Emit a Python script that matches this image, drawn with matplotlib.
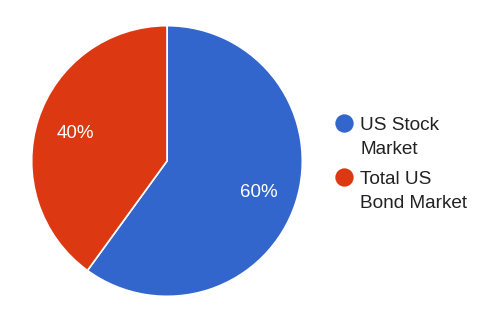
import matplotlib.pyplot as plt
from matplotlib.lines import Line2D

labels = ["US Stock\nMarket", "Total US\nBond Market"]
values = [60, 40]
colors = ["#3366CC", "#DC3912"]

W, H = 482, 326
fig = plt.figure(figsize=(W / 100, H / 100), dpi=100)
fig.patch.set_facecolor("white")

# pie centre ~ (167, 161) px, radius ~136 px
cx, cy, r = 167, 161, 136
ax = fig.add_axes([(cx - r) / W, (H - cy - r) / H, 2 * r / W, 2 * r / H])

wedges, texts, autotexts = ax.pie(
    values, colors=colors, startangle=90, counterclock=False,
    radius=1, autopct="%d%%", pctdistance=0.71,
    wedgeprops=dict(edgecolor="white", linewidth=1.2),
    textprops=dict(color="white", fontsize=13.5, family="Liberation Sans"),
)
for t in autotexts:
    t.set_va("center_baseline")
ax.set_aspect("equal")
ax.set_xlim(-1.005, 1.005)
ax.set_ylim(-1.005, 1.005)

# legend, drawn by hand so the dot sits on the first text line
leg_x, leg_y0, leg_step, line_h = 343.5, 123, 54, 23.5
for i, (lab, col) in enumerate(zip(labels, colors)):
    y = leg_y0 + i * leg_step
    fig.add_artist(Line2D([leg_x / W], [1 - y / H], marker="o", markersize=13.2,
                          color=col, markeredgewidth=0, transform=fig.transFigure))
    for j, line in enumerate(lab.split("\n")):
        fig.text((leg_x + 16.5) / W, 1 - (y + 7 + j * line_h) / H, line,
                 fontsize=13.7, family="Liberation Sans", color="#222222",
                 va="baseline", ha="left")

fig.savefig("out.png", dpi=100, facecolor="white")
